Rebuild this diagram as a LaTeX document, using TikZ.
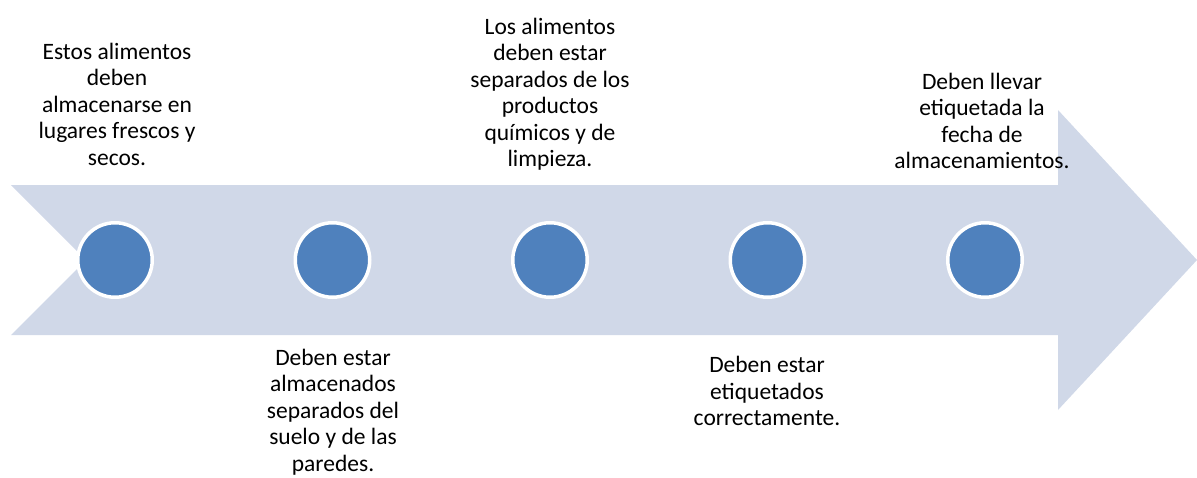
\documentclass[tikz,border=0pt]{standalone}
\usepackage{fontspec}
\setmainfont{Carlito}
\definecolor{flecha}{HTML}{D0D8E8}
\definecolor{punto}{HTML}{4F81BD}
\tikzset{
  punto/.style={circle,fill=punto,draw=white,line width=3.5pt,minimum size=74.5pt,inner sep=0pt},
  texto/.style={align=center,inner sep=0pt,font=\fontsize{23.5}{26.5}\selectfont}
}
\begin{document}
\begin{tikzpicture}[x=1pt,y=-1pt]
            \def\ya{185} \def\yb{335} \def\yc{260} % cuerpo de la flecha
            \useasboundingbox (0,0) rectangle (1197,477);
            \fill[flecha] (11,\ya)--(1058,\ya)--(1058,110)--(1197,\yc)--(1058,410)--(1058,\yb)--(11,\yb)--(86,\yc)--cycle;
            \foreach \i/\x in {1/115,2/332.5,3/550,4/767.5,5/985}
              \node[punto] (c\i) at (\x,\yc) {};
            \node[texto] (t1) at (117,104) {Estos alimentos\\deben\\almacenarse en\\lugares frescos y\\secos.};
            \node[texto] (t2) at (333,412) {Deben estar\\almacenados\\separados del\\suelo y de las\\paredes.};
            \node[texto] (t3) at (550,94) {Los alimentos\\deben estar\\separados de los\\productos\\químicos y de\\limpieza.};
            \node[texto] (t4) at (767,391) {Deben estar\\etiquetados\\correctamente.};
            \node[texto] (t5) at (982,121) {Deben llevar\\etiquetada la\\fecha de\\almacenamientos.};
    \end{tikzpicture}
\end{document}
